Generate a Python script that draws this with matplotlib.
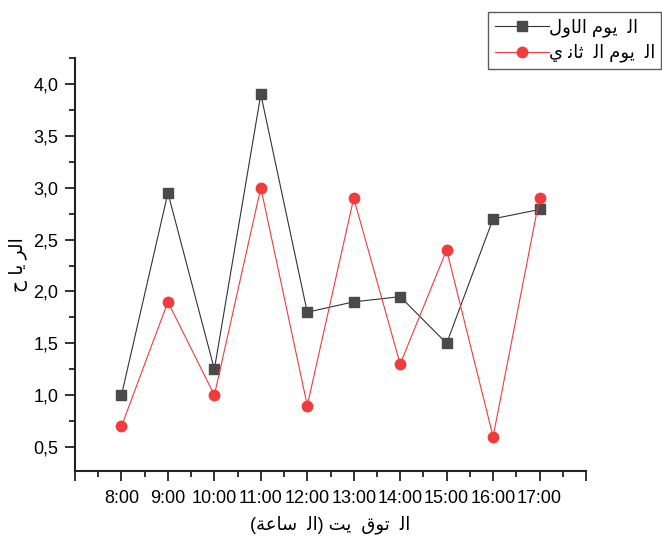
import numpy as np
import matplotlib
matplotlib.use("Agg")
import matplotlib.pyplot as plt
from matplotlib.ticker import MultipleLocator, FuncFormatter

plt.rcParams['font.family'] = ['Liberation Sans', 'DejaVu Sans']

# data
hours = [8, 9, 10, 11, 12, 13, 14, 15, 16, 17]
hour_labels = ['8:00', '9:00', '10:00', '11:00', '12:00', '13:00', '14:00', '15:00', '16:00', '17:00']
day1 = [1.0, 2.95, 1.25, 3.9, 1.8, 1.9, 1.95, 1.5, 2.7, 2.79]
day2 = [0.7, 1.9, 1.0, 3.0, 0.9, 2.9, 1.3, 2.4, 0.6, 2.9]

# arabic text pre-shaped (presentation forms) and in visual order,
# since matplotlib does no shaping / bidi
AL = '\uFEDF\uFE8D'                       # ال
YAWM = '\uFEE1\uFEEE\uFEF3'               # يوم
AWAL = '\uFEDD\uFEED\uFE8E\uFEDF\uFE8D'   # الاول
THANI = '\uFEF1 \uFEE7\uFE8E\uFE9B'       # ثاني
label_day1 = AWAL + ' ' + YAWM + '  ' + AL
label_day2 = THANI + '  ' + AL + ' ' + YAWM + '  ' + AL
xlabel = '(' + '\uFE94\uFECB\uFE8E\uFEB3' + '  ' + AL + ')' + ' ' + '\uFE96\uFEF3' + '  ' + '\uFED5\uFEEE\uFE97' + '  ' + AL
ylabel = '\uFEA1' + ' ' + '\uFE8E\uFEF3' + ' ' + '\uFEAE\uFEDF\uFE8D'

fig = plt.figure(figsize=(6.62, 5.36), dpi=100)
ax = fig.add_axes([0.1133, 0.1213, 0.7719, 0.7705])

ax.plot(hours, day1, color='#333333', lw=0.8, marker='s', ms=6.5,
        mfc='#4a4a4a', mec='#4a4a4a', label=label_day1)
ax.plot(hours, day2, color='#f03c3c', lw=0.8, marker='o', ms=7.5,
        mfc='#f03c3c', mec='#f03c3c', label=label_day2)

ax.set_xlim(7, 18)
ax.set_ylim(0.27, 4.25)

ax.set_xticks([7] + hours + [18])
ax.set_xticklabels([''] + hour_labels + [''])
ax.xaxis.set_minor_locator(MultipleLocator(0.5))
ax.yaxis.set_major_locator(MultipleLocator(0.5))
ax.yaxis.set_minor_locator(MultipleLocator(0.25))
ax.yaxis.set_major_formatter(FuncFormatter(lambda v, p: f'{v:.1f}'.replace('.', ',')))

for side in ['top', 'right']:
    ax.spines[side].set_visible(False)
for side in ['left', 'bottom']:
    ax.spines[side].set_linewidth(1.5)
    ax.spines[side].set_color('#222222')

ax.tick_params(which='major', direction='out', length=7, width=1.3, labelsize=13, colors='#222222', labelcolor='black')
ax.tick_params(which='minor', direction='out', length=4, width=1.3, colors='#222222')
ax.tick_params(axis='x', pad=7)
ax.tick_params(axis='y', pad=5)

ax.set_xlabel(xlabel, fontsize=13, labelpad=6)
ax.set_ylabel(ylabel, fontsize=13.5, labelpad=4)

leg = fig.legend(loc='upper right', bbox_to_anchor=(0.999, 0.978), fontsize=13,
                 frameon=True, fancybox=False, edgecolor='#333333',
                 handlelength=3.0, borderpad=0.35, labelspacing=0.4,
                 handletextpad=0.0, borderaxespad=0.0)
leg.get_frame().set_linewidth(1.0)

fig.savefig('out.png', dpi=100)
